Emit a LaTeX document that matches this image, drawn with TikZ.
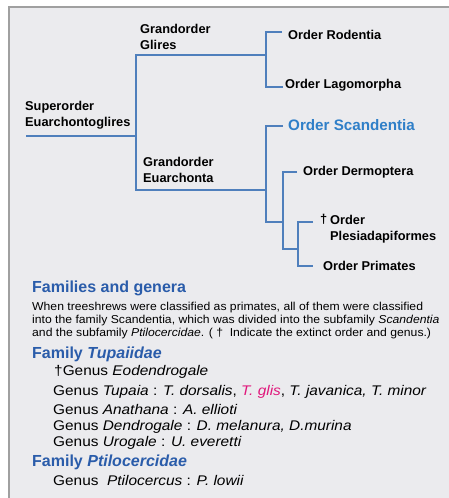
\documentclass[tikz,border=0pt]{standalone}
\usepackage{fontspec}
\setmainfont{Liberation Sans}
\newfontfamily\widefont[FakeStretch=1.06]{Liberation Sans}
\newfontfamily\widerfont[FakeStretch=1.1]{Liberation Sans}
\definecolor{bgc}{HTML}{EBEBEE}
\definecolor{bordc}{HTML}{A0A0A0}
\definecolor{treec}{HTML}{4F7FBC}
\definecolor{scand}{HTML}{2F7FC8}
\definecolor{headc}{HTML}{2A5CAA}
\definecolor{glisc}{HTML}{E0187C}
\begin{document}
\begin{tikzpicture}[x=1pt,y=-1pt,
  tree/.style={draw=treec,line width=2.6pt,line join=miter,line cap=butt},
  lab/.style={anchor=west,inner sep=0pt,font=\fontsize{12.8}{16}\selectfont\bfseries,align=left},
  body/.style={anchor=west,inner sep=0pt,font=\widerfont\fontsize{14}{16}\selectfont},
  para/.style={anchor=north west,inner sep=0pt,font=\widefont\fontsize{11.5}{13}\selectfont,align=left},
  head/.style={anchor=west,inner sep=0pt,font=\fontsize{16}{19}\selectfont\bfseries,text=headc}]
\useasboundingbox (0,0) rectangle (448,498);
\fill[bgc] (9,7) rectangle (452,502);
\draw[bordc,line width=1.5pt] (9,502) -- (9,7) -- (452,7);
% junction coordinates
\coordinate (root) at (26,136);
\coordinate (k0) at (136,136);
\coordinate (k1) at (136,55);
\coordinate (k2) at (136,190);
\coordinate (g1) at (266,55);
\coordinate (g1a) at (266,32);
\coordinate (g1b) at (266,87);
\coordinate (e1) at (266,190);
\coordinate (e1a) at (266,126);
\coordinate (e1b) at (266,222);
\coordinate (d0) at (283,222);
\coordinate (d1) at (283,172);
\coordinate (d2) at (283,249);
\coordinate (p0) at (298,249);
\coordinate (p1) at (298,222);
\coordinate (p2) at (298,266);
\coordinate (lRod) at (282,32);
\coordinate (lLag) at (283,87);
\coordinate (lSca) at (283,126);
\coordinate (lDer) at (297,172);
\coordinate (lPle) at (313,222);
\coordinate (lPri) at (313,266);
% tree
\draw[tree] (root) -- (k0);
\draw[tree] (g1) -- (k1) -- (k2) -- (e1);
\draw[tree] (lRod) -- (g1a) -- (g1b) -- (lLag);
\draw[tree] (lSca) -- (e1a) -- (e1b) -- (d0);
\draw[tree] (lDer) -- (d1) -- (d2) -- (p0);
\draw[tree] (lPle) -- (p1) -- (p2) -- (lPri);
% labels
\node[lab] (glires) at (140,37) {Grandorder\\Glires};
\node[lab] (super) at (25,115) {Superorder\\Euarchontoglires};
\node[lab] (euarch) at (143,170) {Grandorder\\Euarchonta};
\node[lab] (rod) at (288,35) {Order Rodentia};
\node[lab] (lag) at (285,85) {Order Lagomorpha};
\node[lab,text=scand,font=\fontsize{15.2}{18}\selectfont\bfseries] (sca) at (288,125) {Order Scandentia};
\node[lab] (der) at (303,172) {Order Dermoptera};
\node[lab] (dag) at (320,219) {†};
\node[lab] (ple) at (330,229) {Order\\Plesiadapiformes};
\node[lab] (pri) at (323,266) {Order Primates};
% text part
\node[head] (fam) at (32,288) {Families and genera};
\node[para] (par) at (32,302) {When treeshrews were classified as primates, all of them were classified\\into the family Scandentia, which was divided into the subfamily \textit{Scandentia}\\and the subfamily \textit{Ptilocercidae}. ( †\ \ Indicate the extinct order and genus.)};
\node[head] (tup) at (32,354) {Family \textit{Tupaiidae}};
\node[body] (eod) at (54,372) {†Genus \textit{Eodendrogale}};
\node[body] (tpa) at (53,392) {Genus \textit{Tupaia} : \textit{T. dorsalis}, \textcolor{glisc}{\textit{T. glis}}, \textit{T. javanica, T. minor}};
\node[body] (ana) at (53,409) {Genus \textit{Anathana} : \textit{A. ellioti}};
\node[body] (den) at (53,427) {Genus \textit{Dendrogale} : \textit{D. melanura, D.murina}};
\node[body] (uro) at (53,443) {Genus \textit{Urogale} : \textit{U. everetti}};
\node[head] (pti) at (32,462) {Family \textit{Ptilocercidae}};
\node[body] (ptg) at (53,480) {Genus \ \textit{Ptilocercus} : \textit{P. lowii}};
\end{tikzpicture}
\end{document}
